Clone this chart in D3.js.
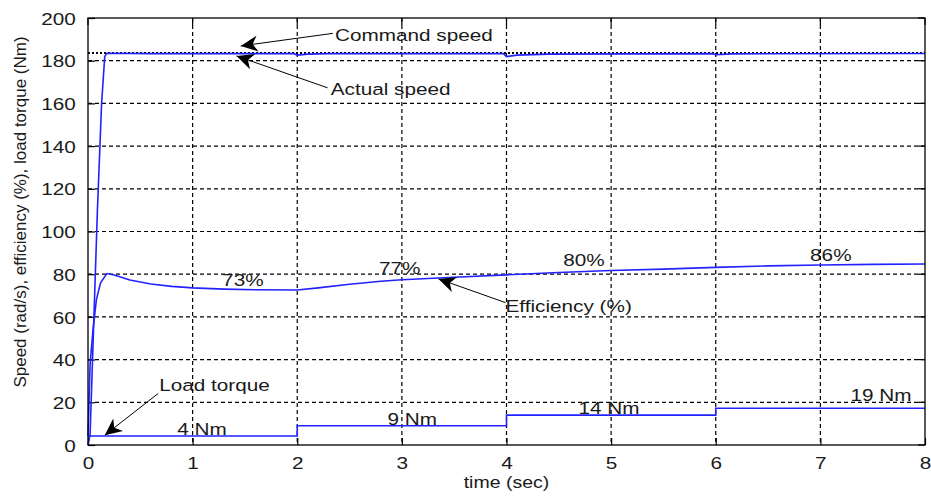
<!DOCTYPE html>
<html>
<head>
<meta charset="utf-8">
<script src="https://cdnjs.cloudflare.com/ajax/libs/d3/7.8.5/d3.min.js"></script>
<style>
  body { margin: 0; background: #fff; }
  text { font-family: 'Liberation Sans', Arial, sans-serif; fill: #1a1a1a; }
</style>
</head>
<body>
<div class="chart"></div>
<script>
var xTicks = [0, 1, 2, 3, 4, 5, 6, 7, 8];
var yTicks = [0, 20, 40, 60, 80, 100, 120, 140, 160, 180, 200];

var commandSpeed = 183.6;

// [time, value]
var actualSpeed = [
  [0, 0], [0.02, 5], [0.05, 50], [0.09, 110], [0.13, 160], [0.16, 182], [0.18, 183.5],
  [0.6, 183.3], [1.97, 183.3], [2.0, 182.6], [2.1, 183.1], [2.3, 183.3],
  [3.97, 183.3], [4.0, 181.9], [4.1, 182.6], [4.4, 183.1], [5.97, 183.3],
  [6.0, 182.8], [6.15, 183.2], [8, 183.4]
];

var efficiency = [
  [0, 4], [0.02, 38], [0.05, 55], [0.08, 68], [0.12, 76], [0.18, 80.3], [0.25, 79.6],
  [0.4, 77.3], [0.6, 75.4], [0.8, 74.3], [1.0, 73.6], [1.3, 73], [1.6, 72.7],
  [2.0, 72.6], [2.2, 73.6], [2.5, 75.3], [2.8, 76.7], [3.0, 77.4], [3.5, 78.6],
  [4.0, 79.7], [4.5, 80.8], [5.0, 81.7], [5.5, 82.4], [6.0, 83.2], [6.5, 83.9],
  [7.0, 84.3], [7.5, 84.6], [8.0, 84.8]
];

var loadTorque = [
  [0, 4.2], [2, 4.2], [2, 9], [4, 9], [4, 14], [6, 14], [6, 17.2], [8, 17.2]
];

var valueLabels = [
  { t: 1.48, v: 77.5, text: '73%' },
  { t: 2.98, v: 83, text: '77%' },
  { t: 4.74, v: 86.5, text: '80%' },
  { t: 7.1, v: 89, text: '86%' },
  { t: 1.09, v: 7.7, text: '4 Nm' },
  { t: 3.1, v: 12.4, text: '9 Nm' },
  { t: 4.98, v: 17.2, text: '14 Nm' },
  { t: 7.58, v: 23.3, text: '19 Nm' }
];

// callouts: text position and arrow tip, in data units
var callouts = [
  { text: 'Command speed', t: 2.36, v: 192, from: [2.34, 192.8], to: [1.46, 186.9] },
  { text: 'Actual speed', t: 2.32, v: 167, from: [2.29, 167.3], to: [1.42, 182.2] },
  { text: 'Efficiency (%)', t: 3.99, v: 65, from: [3.99, 66.7], to: [3.35, 77.8] },
  { text: 'Load torque', t: 0.68, v: 28, from: [0.67, 24.1], to: [0.16, 4.6] }
];

var svgWidth = 931;
var svgHeight = 496;
var margin = { top: 18, right: 6, bottom: 51, left: 88 };
var width = svgWidth - margin.left - margin.right;
var height = svgHeight - margin.top - margin.bottom;
var sx = 1.22; // picture is stretched horizontally

var svg = d3.select('.chart')
  .append('svg')
  .attr('width', svgWidth)
  .attr('height', svgHeight);

var chart = svg.append('g')
  .attr('transform', 'translate(' + margin.left + ',' + margin.top + ')');

var x = d3.scaleLinear().domain([0, 8]).range([0, width]);
var y = d3.scaleLinear().domain([0, 200]).range([height, 0]);

// grid
chart.append('g').selectAll('line')
  .data(xTicks.slice(1, -1))
  .enter().append('line')
  .attr('x1', function(d) { return x(d); })
  .attr('x2', function(d) { return x(d); })
  .attr('y1', 0).attr('y2', height)
  .attr('stroke', '#000').attr('stroke-width', 1.2)
  .attr('stroke-dasharray', '4,3');

chart.append('g').selectAll('line')
  .data(yTicks.slice(1, -1))
  .enter().append('line')
  .attr('y1', function(d) { return y(d); })
  .attr('y2', function(d) { return y(d); })
  .attr('x1', 0).attr('x2', width)
  .attr('stroke', '#000').attr('stroke-width', 1.2)
  .attr('stroke-dasharray', '4,3');

// axes
var bottom = d3.axisBottom(x).tickValues(xTicks).tickSizeInner(-7).tickSizeOuter(0).tickPadding(12);
var left = d3.axisLeft(y).tickValues(yTicks).tickSizeInner(-7).tickSizeOuter(0).tickPadding(10);

var gx = chart.append('g')
  .attr('transform', 'translate(0,' + height + ')')
  .call(bottom);
var gy = chart.append('g').call(left);

[gx, gy].forEach(function(g) {
  g.select('.domain').remove();
  g.selectAll('line').attr('stroke', '#000').attr('stroke-width', 1.2);
  g.selectAll('text')
    .style('font-size', '17px')
    .style('font-family', "'Liberation Sans', Arial, sans-serif")
    .attr('fill', '#1a1a1a');
});
gx.selectAll('text').attr('transform', 'scale(' + sx + ',1)');
gy.selectAll('text').attr('transform', 'scale(' + sx + ',1)').attr('dy', '0.36em');

// top / right ticks
chart.append('g').selectAll('line').data(xTicks).enter().append('line')
  .attr('x1', function(d) { return x(d); }).attr('x2', function(d) { return x(d); })
  .attr('y1', 0).attr('y2', 7).attr('stroke', '#000').attr('stroke-width', 1.2);
chart.append('g').selectAll('line').data(yTicks).enter().append('line')
  .attr('y1', function(d) { return y(d); }).attr('y2', function(d) { return y(d); })
  .attr('x1', width - 7).attr('x2', width).attr('stroke', '#000').attr('stroke-width', 1.2);

// command speed (dotted)
chart.append('line')
  .attr('x1', 0).attr('x2', width)
  .attr('y1', y(commandSpeed)).attr('y2', y(commandSpeed))
  .attr('stroke', '#000').attr('stroke-width', 2)
  .attr('stroke-dasharray', '2,2');

var line = d3.line()
  .x(function(d) { return x(d[0]); })
  .y(function(d) { return y(d[1]); });

[actualSpeed, efficiency, loadTorque].forEach(function(series) {
  chart.append('path')
    .datum(series)
    .attr('d', line)
    .attr('fill', 'none')
    .attr('stroke', '#2222ff')
    .attr('stroke-width', 1.6);
});

// frame
chart.append('rect')
  .attr('width', width).attr('height', height)
  .attr('fill', 'none').attr('stroke', '#000').attr('stroke-width', 1.3);

function addText(px, py, str, size, anchor) {
  return chart.append('text')
    .attr('transform', 'translate(' + px + ',' + py + ') scale(' + sx + ',1)')
    .attr('text-anchor', anchor || 'middle')
    .attr('dy', '0.36em')
    .style('font-size', size + 'px')
    .text(str);
}

valueLabels.forEach(function(d) {
  addText(x(d.t), y(d.v), d.text, 17, 'middle');
});

// arrows
callouts.forEach(function(d) {
  addText(x(d.t), y(d.v), d.text, 17, 'start');

  var x1 = x(d.from[0]), y1 = y(d.from[1]);
  var x2 = x(d.to[0]), y2 = y(d.to[1]);
  var ang = Math.atan2(y2 - y1, x2 - x1) * 180 / Math.PI;

  chart.append('line')
    .attr('x1', x1).attr('y1', y1).attr('x2', x2).attr('y2', y2)
    .attr('stroke', '#000').attr('stroke-width', 1);

  chart.append('path')
    .attr('d', 'M0,0 L-17,-8 L-12,0 L-17,8 Z')
    .attr('transform', 'translate(' + x2 + ',' + y2 + ') rotate(' + ang + ')')
    .attr('fill', '#000');
});

// axis titles
svg.append('text')
  .attr('transform', 'translate(' + (margin.left + width / 2) + ',' + 482 + ') scale(' + sx + ',1)')
  .attr('text-anchor', 'middle')
  .attr('dy', '0.36em')
  .style('font-size', '16px')
  .text('time (sec)');

svg.append('text')
  .attr('transform', 'translate(20,' + 212 + ') rotate(-90)')
  .attr('text-anchor', 'middle')
  .attr('dy', '0.36em')
  .style('font-size', '17px')
  .text('Speed (rad/s), efficiency (%), load torque (Nm)');
</script>
</body>
</html>
